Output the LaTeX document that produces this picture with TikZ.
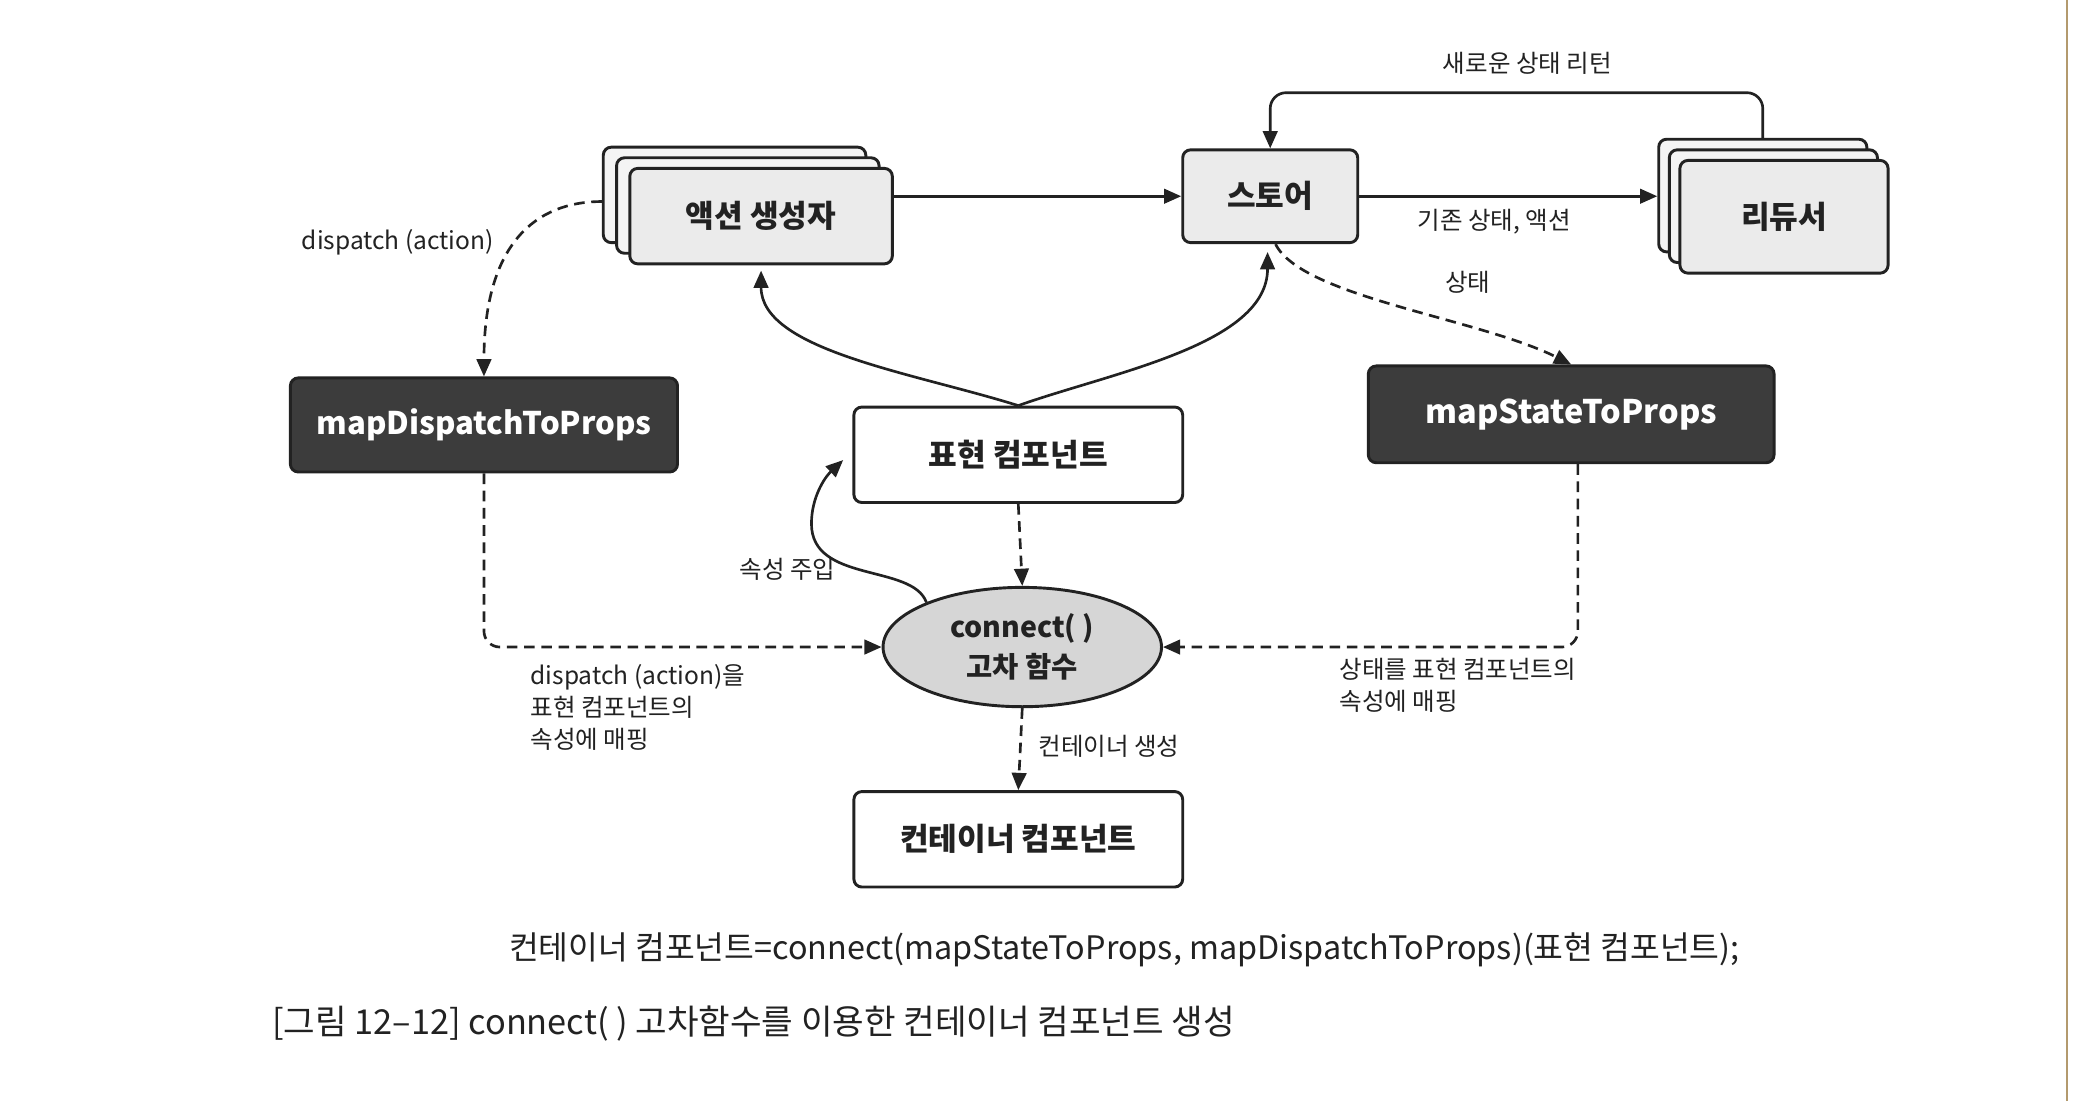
\documentclass[tikz,border=0pt]{standalone}
\usepackage{fontspec}
\setmainfont{Noto Sans CJK KR}
\usetikzlibrary{arrows.meta,shapes.geometric,calc}
\definecolor{ink}{HTML}{222222}
\definecolor{lightbox}{HTML}{EBEBEB}
\definecolor{backbox}{HTML}{F4F4F4}
\definecolor{darkbox}{HTML}{3C3C3C}
\definecolor{ellfill}{HTML}{D6D6D6}
\definecolor{pageedge}{HTML}{B39A6E}
\begin{document}
\begin{tikzpicture}[x=1pt,y=-1pt,
  box/.style={draw=ink, line width=2.2pt, rounded corners=6pt, inner sep=0pt,
    font=\fontsize{23.5}{28}\selectfont\bfseries, text=ink},
  lbox/.style={box, fill=lightbox},
  bkbox/.style={box, fill=backbox},
  wbox/.style={box, fill=white},
  dbox/.style={box, fill=darkbox, text=white, font=\fontsize{23.5}{28}\selectfont\bfseries},
  lab/.style={font=\fontsize{18.5}{24}\selectfont, text=ink, inner sep=0pt},
  arr/.style={draw=ink, line width=2pt, -{Triangle[length=13pt,width=11pt]}},
  darr/.style={arr, dash pattern=on 8pt off 5pt}
]
\useasboundingbox (0,0) rectangle (1568,830);
\fill[white] (0,0) rectangle (1568,830);
\draw[pageedge, line width=2pt] (1559,0) -- (1559,830);

% action creator stack
\node[bkbox, minimum width=198pt, minimum height=72pt] (ab) at (554,147) {};
\node[bkbox, minimum width=198pt, minimum height=72pt] (am) at (564,155) {};
\node[lbox, minimum width=198pt, minimum height=72pt] (act) at (574,163) {액션 생성자};

% store
\node[lbox, minimum width=132pt, minimum height=70pt] (store) at (958,148) {스토어};

% reducer stack
\node[bkbox, minimum width=157pt, minimum height=85pt] (rb) at (1329.5,147.5) {};
\node[bkbox, minimum width=157pt, minimum height=85pt] (rm) at (1337.5,155.5) {};
\node[lbox, minimum width=157pt, minimum height=85pt] (rd) at (1345.5,163.5) {리듀서};

% dark boxes
\node[dbox, minimum width=292pt, minimum height=71pt] (mapD) at (365,320.5) {mapDispatchToProps};
\node[dbox, minimum width=306pt, minimum height=73pt, font=\fontsize{24.5}{28}\selectfont\bfseries] (mapS) at (1185,312.5) {mapStateToProps};

% presentational / container
\node[wbox, minimum width=248pt, minimum height=72pt] (pres) at (768,343) {표현 컴포넌트};
\node[wbox, minimum width=248pt, minimum height=72pt] (cont) at (768,633) {컨테이너 컴포넌트};

% connect ellipse
\node[ellipse, draw=ink, line width=2.2pt, fill=ellfill, minimum width=210pt, minimum height=90pt,
  inner sep=0pt, align=center, font=\fontsize{21.5}{30}\selectfont\bfseries, text=ink] (conn) at (771,488)
  {connect( )\\고차 함수};

% labels
\node[lab] (lret) at (1152,48) {새로운 상태 리턴};
\node[lab] (lold) at (1127,167) {기존 상태, 액션};
\node[lab] (ldisp) at (300,183) {dispatch (action)};
\node[lab] (lstate) at (1107,213) {상태};
\node[lab] (linj) at (594,429) {속성 주입};
\node[lab, align=left, anchor=north west] (lmapd) at (400,501) {dispatch (action)을\\표현 컴포넌트의\\속성에 매핑};
\node[lab, align=left, anchor=north west] (lmaps) at (1010,496) {상태를 표현 컴포넌트의\\속성에 매핑};
\node[lab, anchor=west] (lcont) at (783,563) {컨테이너 생성};

\node[font=\fontsize{24.4}{28}\selectfont, text=ink, inner sep=0pt] (formula) at (848,716)
  {컨테이너 컴포넌트=connect(mapStateToProps, mapDispatchToProps)(표현 컴포넌트);};
\node[anchor=west, font=\fontsize{25.9}{30}\selectfont, text=ink, inner sep=0pt] (cap) at (205,772)
  {[그림 12–12] connect( ) 고차함수를 이용한 컨테이너 컴포넌트 생성};

% connectors
\draw[arr] (act.east |- store.west) -- (store.west);
\draw[arr] (store.east) -- (store.east -| rb.west);
\draw[arr, rounded corners=12pt] (rb.north) -- ++(0,-34) -| (store.north);
\draw[darr] ([yshift=-5pt]ab.west) .. controls +(-50,0) and +(0,-100) .. (mapD.north);
\draw[darr] ([xshift=4pt]store.south) .. controls +(20,40) and +(-70,-35) .. (mapS.north);
\draw[arr] (pres.north) .. controls +(-80,-25) and +(0,60) .. ([yshift=-4pt]act.south);
\draw[arr] (pres.north) .. controls +(70,-25) and +(0,70) .. ([xshift=-2pt,yshift=-6pt]store.south);
\draw[darr] (pres.south) -- (conn.north);
\coordinate (inj) at (612,395);
\draw[arr] (conn.155) .. controls (688,425) and (612,440) .. (inj)
  .. controls (612,375) and (622,360) .. ([xshift=-7pt,yshift=-4pt]pres.west);
\draw[darr, rounded corners=12pt] (mapD.south) |- (conn.west);
\draw[darr, rounded corners=12pt] ([xshift=5pt]mapS.south) |- (conn.east);
\draw[darr] (conn.south) -- (cont.north);
\end{tikzpicture}
\end{document}
